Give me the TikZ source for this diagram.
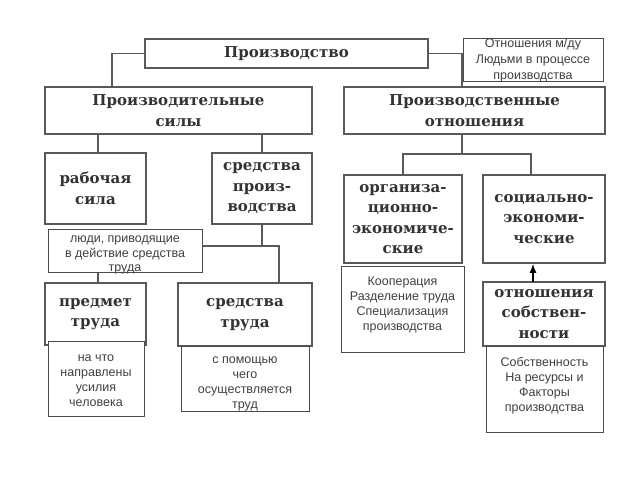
\documentclass[tikz,border=0pt]{standalone}
\usepackage{fontspec}
\setmainfont{Liberation Sans}
\newfontfamily\headfont{DejaVu Serif}
\usetikzlibrary{arrows.meta}

\begin{document}
\begin{tikzpicture}[x=1pt,y=-1pt]
\useasboundingbox (0,0) rectangle (640,480);
\tikzstyle{HeadStyle}=[draw=black!65,line width=1.8pt,fill=white,inner sep=0pt,align=center,text=black!80,font=\headfont\bfseries\fontsize{15}{20.5}\selectfont]
\tikzstyle{NoteStyle}=[draw=black!70,line width=1pt,fill=white,inner sep=0pt,align=center,text=black!75,font=\fontsize{12.5}{15}\selectfont]

\node[HeadStyle,minimum width=283,minimum height=29] (p0) at (286.5,53.5) {Производство};
\node[NoteStyle,minimum width=140,minimum height=43,font=\fontsize{12.5}{16}\selectfont] (m1) at (533,60) {Отношения м/ду\\Людьми в процессе\\производства};

\node[HeadStyle,minimum width=267,minimum height=47] (f1) at (178.5,110.5) {Производительные\\силы};
\node[HeadStyle,minimum width=261,minimum height=47] (r1) at (474.5,110.5) {Производственные\\отношения};

\node[HeadStyle,minimum width=101,minimum height=71] (f2) at (95.5,188.5) {рабочая\\сила};
\node[HeadStyle,minimum width=100,minimum height=71] (f3) at (262,188.5) {средства\\произ-\\водства};

\node[HeadStyle,minimum width=101,minimum height=62] (f4) at (95.5,314) {предмет\\труда};
\node[HeadStyle,minimum width=134,minimum height=63] (f5) at (245,314.5) {средства\\труда};

\node[HeadStyle,minimum width=118,minimum height=88] (r2) at (403,219) {организа-\\ционно-\\экономиче-\\ские};
\node[HeadStyle,minimum width=122,minimum height=88] (r3) at (544,219) {социально-\\экономи-\\ческие};
\node[HeadStyle,minimum width=122,minimum height=64] (r4) at (544,314) {отношения\\собствен-\\ности};

\coordinate (c1) at (112,87);
\coordinate (c2) at (462,87);
\coordinate (c3) at (98,134);
\coordinate (j1) at (262,246);
\coordinate (c4) at (279,283);
\coordinate (j2) at (462,154);
\coordinate (c5) at (531,175);
\coordinate (c6) at (533,282);

\tikzstyle{EdgeStyle}=[draw=black!65,line width=1.8pt]
\draw[EdgeStyle] (p0.west) -| (c1);
\draw[EdgeStyle] (p0.east) -| (c2);
\draw[EdgeStyle] (c3) -- (c3 |- f2.north);
\draw[EdgeStyle] (f3.north |- f1.south) -- (f3.north);
\draw[EdgeStyle] (f3.south) -- (j1);
\draw[EdgeStyle] (c3 |- f4.north) |- (j1) -| (c4);
\draw[EdgeStyle] (j2 |- r1.south) -- (j2);
\draw[EdgeStyle] (r2.north) |- (j2) -| (c5);

\tikzstyle{EdgeStyle}=[draw=black,line width=1.2pt,-{Latex[length=9pt,width=7pt]}]
\draw[EdgeStyle] (c6) -- (c6 |- r3.south);

\node[NoteStyle,minimum width=154,minimum height=43,font=\fontsize{12.5}{14.5}\selectfont] (n1) at (125,250.5) {люди, приводящие\\в действие средства\\труда\\[-21.5pt]};
\node[NoteStyle,minimum width=96,minimum height=75] (n2) at (96,378.5) {на что\\направлены\\усилия\\человека\\[-19pt]};
\node[NoteStyle,minimum width=128,minimum height=65] (n3) at (245,378.5) {с помощью\\чего\\осуществляется\\труд\\[-23pt]};
\node[NoteStyle,minimum width=123,minimum height=86] (n4) at (402.5,309) {Кооперация\\Разделение труда\\Специализация\\производства\\[-4pt]};
\node[NoteStyle,minimum width=117,minimum height=86] (n5) at (544.5,389) {Собственность\\На ресурсы и\\Факторы\\производства\\[-6pt]};

\end{tikzpicture}
\end{document}
